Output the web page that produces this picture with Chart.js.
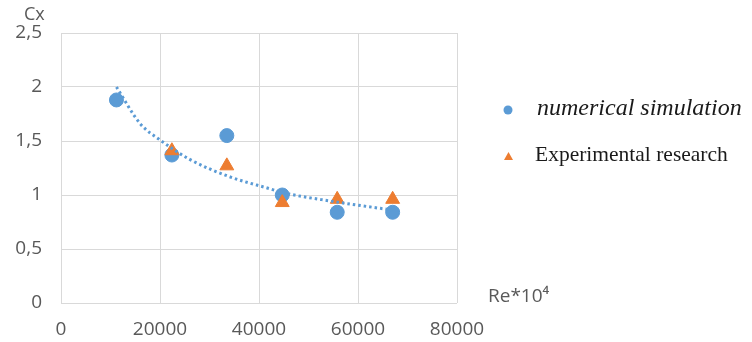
<!DOCTYPE html>
<html>
<head>
<meta charset="utf-8">
<script src="https://cdn.jsdelivr.net/npm/chart.js@4.4.1/dist/chart.umd.min.js"></script>
<style>
  html, body { margin: 0; padding: 0; background: #ffffff; }
  #wrap { width: 752px; height: 342px; position: relative; }
</style>
</head>
<body>
<div id="wrap"><canvas id="c" width="752" height="342"></canvas></div>
<script>
// ---- data ----
const numericalRe = [11200, 22400, 33500, 44700, 55800, 67000];
const numericalCx = [1.88, 1.37, 1.55, 1.00, 0.84, 0.84];
const experimentalRe = [22400, 33500, 44700, 55800, 67000];
const experimentalCx = [1.41, 1.27, 0.93, 0.96, 0.96];
const trendRe = [11200, 16000, 20000, 26000, 34000, 42000, 45000, 55000, 67000];
const trendCx = [2.0, 1.66, 1.51, 1.33, 1.17, 1.06, 1.02, 0.94, 0.86];
const seriesNames = ['numerical simulation', 'Experimental research'];
const yTitle = 'Cx';
const xTitle = 'Re*10\u2074';
const xTicks = [0, 20000, 40000, 60000, 80000];
const yTicks = [0, 0.5, 1, 1.5, 2, 2.5];

const BLUE = '#5B9BD5';
const ORANGE = '#ED7D31';
const TICK = '#595959';

const zip = (xs, ys) => xs.map((x, i) => ({ x: x, y: ys[i] }));

const overlay = {
  id: 'overlay',
  afterDraw(chart) {
    const ctx = chart.ctx;
    ctx.save();
    // axis titles
    ctx.fillStyle = TICK;
    ctx.textBaseline = 'middle';
    ctx.textAlign = 'left';
    ctx.font = '18px "Open Sans"';
    ctx.fillText(yTitle, 24, 15);
    ctx.font = '19px "Open Sans"';
    ctx.fillText(xTitle, 488, 297);
    // legend
    ctx.fillStyle = BLUE;
    ctx.beginPath();
    ctx.arc(508, 110, 4.5, 0, Math.PI * 2);
    ctx.fill();
    ctx.fillStyle = ORANGE;
    ctx.beginPath();
    ctx.moveTo(508.5, 152);
    ctx.lineTo(513, 160);
    ctx.lineTo(504, 160);
    ctx.closePath();
    ctx.fill();
    ctx.fillStyle = '#1a1a1a';
    ctx.font = 'italic 24px "Liberation Serif"';
    ctx.fillText(seriesNames[0], 537, 109);
    ctx.font = '21.5px "Liberation Serif"';
    ctx.fillText(seriesNames[1], 535, 155);
    ctx.restore();
  }
};

new Chart(document.getElementById('c'), {
  type: 'scatter',
  data: {
    datasets: [
      {
        label: 'trend',
        type: 'line',
        data: zip(trendRe, trendCx),
        borderColor: BLUE,
        borderWidth: 3,
        borderDash: [2.5, 3],
        pointRadius: 0,
        cubicInterpolationMode: 'monotone',
        fill: false,
        order: 0
      },
      {
        label: seriesNames[0],
        data: zip(numericalRe, numericalCx),
        backgroundColor: BLUE,
        borderColor: BLUE,
        pointStyle: 'circle',
        pointRadius: 7,
        order: 2
      },
      {
        label: seriesNames[1],
        data: zip(experimentalRe, experimentalCx),
        backgroundColor: ORANGE,
        borderColor: ORANGE,
        pointStyle: 'triangle',
        pointRadius: 8,
        order: 1
      }
    ]
  },
  options: {
    responsive: false,
    animation: false,
    devicePixelRatio: 1,
    layout: { padding: { top: 33, right: 295, bottom: 0, left: 0 } },
    plugins: { legend: { display: false }, tooltip: { enabled: false } },
    scales: {
      x: {
        type: 'linear',
        min: xTicks[0],
        max: xTicks[xTicks.length - 1],
        afterFit(s) { s.height = 39; },
        afterBuildTicks(s) { s.ticks = xTicks.map(v => ({ value: v })); },
        grid: { color: '#d9d9d9', lineWidth: 1, drawTicks: false },
        border: { display: false },
        ticks: {
          color: TICK,
          font: { family: 'Open Sans', size: 19 },
          padding: 15,
          maxRotation: 0,
          callback: v => String(v)
        }
      },
      y: {
        type: 'linear',
        min: yTicks[0],
        max: yTicks[yTicks.length - 1],
        afterFit(s) { s.width = 61; },
        afterBuildTicks(s) { s.ticks = yTicks.map(v => ({ value: v })); },
        grid: { color: '#d9d9d9', lineWidth: 1, drawTicks: false },
        border: { display: false },
        ticks: {
          color: TICK,
          font: { family: 'Open Sans', size: 19 },
          padding: 19,
          callback: v => String(v).replace('.', ',')
        }
      }
    }
  },
  plugins: [overlay]
});
</script>
</body>
</html>
